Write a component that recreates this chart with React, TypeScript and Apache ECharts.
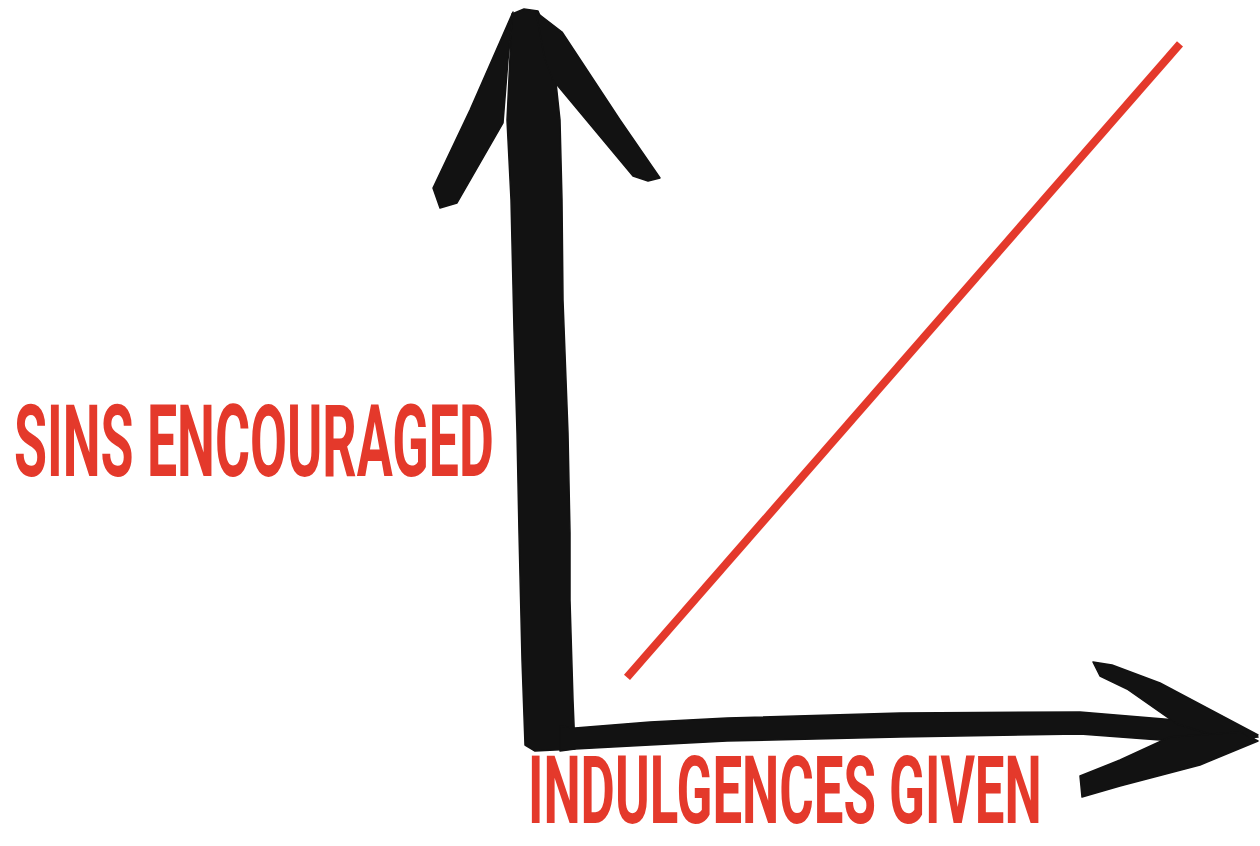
import React, { useEffect, useRef } from "react";
import * as echarts from "echarts";

// Conceptual chart: one rising line
const xLabel = "INDULGENCES GIVEN";
const yLabel = "SINS ENCOURAGED";
const lineX = [11, 90];
const lineY = [8, 96];

const RED = "#e4392b";
const INK = "#121212";

function measure(text: string, font: string): number {
  const c = document.createElement("canvas").getContext("2d");
  if (!c) return 1;
  c.font = font;
  return c.measureText(text).width;
}

export default function App() {
  const ref = useRef<HTMLDivElement>(null);
  useEffect(() => {
    if (!ref.current) return;
    const chart = echarts.init(ref.current, null, { renderer: "svg" });
    const fontY = "bold 101px Roboto";
    const fontX = "bold 94px Roboto";
    const sy = 480 / measure(yLabel, fontY);
    const sx = 514 / measure(xLabel, fontX);

    const brush = (points: number[][]) => ({
      type: "polygon",
      shape: { points, smooth: 0 },
      style: { fill: INK, stroke: INK, lineWidth: 1.5, lineJoin: "round" },
      silent: true,
    });

    chart.setOption({
      animation: false,
      backgroundColor: "#ffffff",
      grid: { left: 550, top: 15, right: 10, bottom: 111 },
      xAxis: { type: "value", min: 0, max: 100, show: false },
      yAxis: { type: "value", min: 0, max: 100, show: false },
      series: [
        {
          type: "line",
          data: lineX.map((x, i) => [x, lineY[i]]),
          symbol: "none",
          lineStyle: { color: RED, width: 8, cap: "butt" },
          z: 5,
        },
      ],
      graphic: [
        // vertical shaft
        brush([
          [512, 14], [507, 120], [511, 200], [514, 330], [517, 433], [519, 533],
          [522, 660], [525, 745], [535, 751], [575, 749], [573, 700], [570, 600],
          [570, 533], [568, 433], [563, 300], [562, 200], [560, 120], [552, 45], [538, 11], [524, 9],
        ]),
        // vertical arrowhead barbs
        brush([[513, 12], [470, 110], [433, 188], [440, 208], [457, 203], [503, 123], [508, 60]]),
        brush([[536, 12], [562, 32], [620, 120], [660, 178], [648, 181], [633, 176], [553, 80], [545, 60]]),
        // horizontal shaft
        brush([
          [560, 726], [575, 728], [650, 722], [727, 718], [900, 713], [1080, 712],
          [1200, 722], [1258, 737], [1200, 743], [1080, 734], [900, 737], [727, 741],
          [650, 745], [575, 749], [560, 751],
        ]),
        // horizontal arrowhead barbs
        brush([[1093, 662], [1112, 665], [1160, 683], [1258, 735], [1245, 745], [1177, 724], [1127, 689], [1100, 676]]),
        brush([[1080, 776], [1120, 760], [1170, 737], [1240, 732], [1258, 741], [1200, 765], [1120, 786], [1082, 797]]),
        {
          type: "text",
          x: 14,
          y: 442,
          scaleX: sy,
          style: { text: yLabel, font: fontY, fill: RED, textVerticalAlign: "middle", lineHeight: 74 },
          silent: true,
        },
        {
          type: "text",
          x: 528,
          y: 791,
          scaleX: sx,
          style: { text: xLabel, font: fontX, fill: RED, textVerticalAlign: "middle", lineHeight: 70 },
          silent: true,
        },
      ],
    });
    return () => chart.dispose();
  }, []);
  return (
    <div
      ref={ref}
      style={{ position: "absolute", left: 0, top: 0, width: 1260, height: 846 }}
    />
  );
}
